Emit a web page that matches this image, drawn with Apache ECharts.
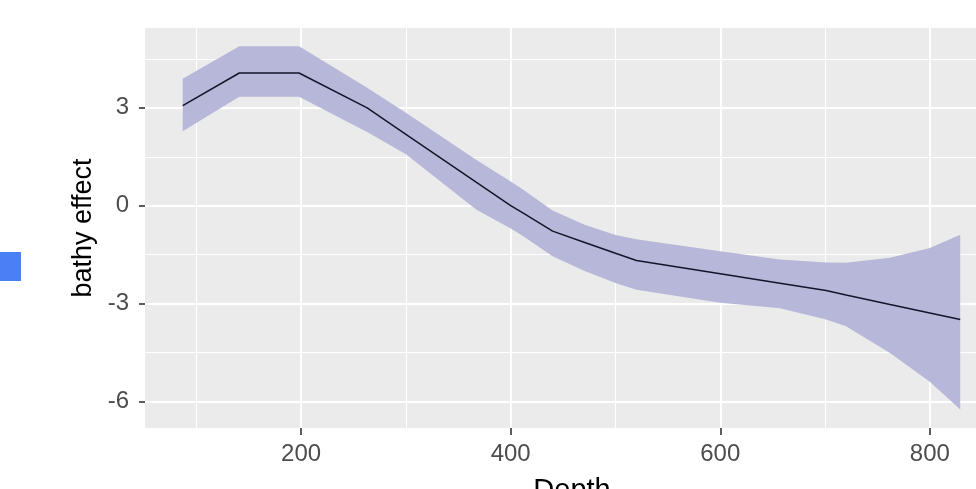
<!DOCTYPE html>
<html>
<head>
<meta charset="utf-8">
<script src="https://cdn.jsdelivr.net/npm/echarts@6/dist/echarts.min.js"></script>
<style>
html,body{margin:0;padding:0;background:#fff;}
#chart{width:976px;height:489px;}
</style>
</head>
<body>
<div id="chart"></div>
<script>
// ---- data ----
const depth   = [87, 141, 198, 263, 300, 367, 400, 412, 440, 470, 500, 520, 600, 657, 701, 720, 762, 800, 829];
const effect  = [3.07, 4.07, 4.07, 3.0, 2.19, 0.72, 0.0, -0.23, -0.78, -1.12, -1.46, -1.68, -2.09, -2.38, -2.6, -2.74, -3.03, -3.29, -3.49];
const upperCI = [3.89, 4.89, 4.89, 3.62, 2.85, 1.41, 0.74, 0.49, -0.15, -0.58, -0.90, -1.03, -1.40, -1.65, -1.74, -1.75, -1.60, -1.30, -0.89];
const lowerCI = [2.28, 3.34, 3.34, 2.26, 1.58, -0.12, -0.70, -0.94, -1.55, -2.00, -2.37, -2.58, -2.98, -3.15, -3.49, -3.70, -4.52, -5.40, -6.25];
const xTicks = [200, 400, 600, 800];
const yTicks = [-6, -3, 0, 3];
const xMinorLines = [100, 200, 300, 400, 500, 600, 700, 800];
const yMinorLines = [-4.5, -3, -1.5, 0, 1.5, 3, 4.5];
const xTitle = 'Depth';
const yTitle = 'bathy effect';

const chart = echarts.init(document.getElementById('chart'), null, {renderer: 'canvas'});

const lineData = depth.map((d, i) => [d, effect[i]]);
const bandData = depth.map((d, i) => [d, upperCI[i], lowerCI[i]]);

const X_MIN = 51, X_MAX = 866, Y_MIN = -6.82, Y_MAX = 5.45;
const labelFont = 'Liberation Sans, Arial, sans-serif';

const option = {
  animation: false,
  backgroundColor: '#ffffff',
  grid: {
    left: 145, top: 28, right: -23, bottom: 61,
    show: true, backgroundColor: '#EBEBEB', borderWidth: 0,
    containLabel: false, outerBoundsMode: 'none'
  },
  xAxis: [
    {
      type: 'value', min: X_MIN, max: X_MAX,
      position: 'bottom',
      name: xTitle, nameLocation: 'middle', nameGap: 48,
      nameTextStyle: {fontSize: 29, color: '#000', fontFamily: labelFont},
      axisLine: {show: false, onZero: false},
      axisTick: {show: true, length: 7, customValues: xTicks, lineStyle: {color: '#333', width: 1.6}},
      axisLabel: {show: true, customValues: xTicks, margin: 14, fontSize: 24, color: '#4D4D4D', fontFamily: labelFont},
      splitLine: {show: true, lineStyle: {color: '#FFFFFF', width: 1.8}},
      z: 1
    },
    {
      type: 'value', min: X_MIN, max: X_MAX,
      position: 'top',
      axisLine: {show: false, onZero: false},
      axisTick: {show: false, customValues: xMinorLines},
      axisLabel: {show: false, customValues: xMinorLines},
      splitLine: {show: true, lineStyle: {color: '#FFFFFF', width: 1}},
      z: 0
    }
  ],
  yAxis: [
    {
      type: 'value', min: Y_MIN, max: Y_MAX,
      position: 'left',
      name: yTitle, nameLocation: 'middle', nameGap: 42,
      nameTextStyle: {fontSize: 27, color: '#000', fontFamily: labelFont},
      axisLine: {show: false, onZero: false},
      axisTick: {show: true, length: 6, customValues: yTicks, lineStyle: {color: '#333', width: 1.6}},
      axisLabel: {show: true, customValues: yTicks, margin: 16, fontSize: 24, color: '#4D4D4D', fontFamily: labelFont},
      splitLine: {show: true, lineStyle: {color: '#FFFFFF', width: 1.8}},
      z: 1
    },
    {
      type: 'value', min: Y_MIN, max: Y_MAX,
      position: 'right',
      axisLine: {show: false, onZero: false},
      axisTick: {show: false, customValues: yMinorLines},
      axisLabel: {show: false, customValues: yMinorLines},
      splitLine: {show: true, lineStyle: {color: '#FFFFFF', width: 1}},
      z: 0
    }
  ],
  series: [
    {
      type: 'custom',
      xAxisIndex: 0, yAxisIndex: 0,
      data: bandData,
      z: 2,
      silent: true,
      renderItem: function (params, api) {
        if (params.dataIndex !== 0) return null;
        const pts = [];
        for (let i = 0; i < bandData.length; i++) pts.push(api.coord([bandData[i][0], bandData[i][1]]));
        for (let i = bandData.length - 1; i >= 0; i--) pts.push(api.coord([bandData[i][0], bandData[i][2]]));
        return {
          type: 'polygon',
          shape: {points: pts},
          style: {fill: '#B7B7D9', stroke: null}
        };
      }
    },
    {
      type: 'line',
      xAxisIndex: 0, yAxisIndex: 0,
      data: lineData,
      showSymbol: false,
      symbol: 'none',
      lineStyle: {color: '#15152a', width: 1.5},
      z: 3
    }
  ],
  graphic: [
    {
      type: 'rect',
      shape: {x: 0, y: 252, width: 21, height: 29},
      style: {fill: '#4B7FF5'}
    }
  ]
};
chart.setOption(option);
</script>
</body>
</html>
